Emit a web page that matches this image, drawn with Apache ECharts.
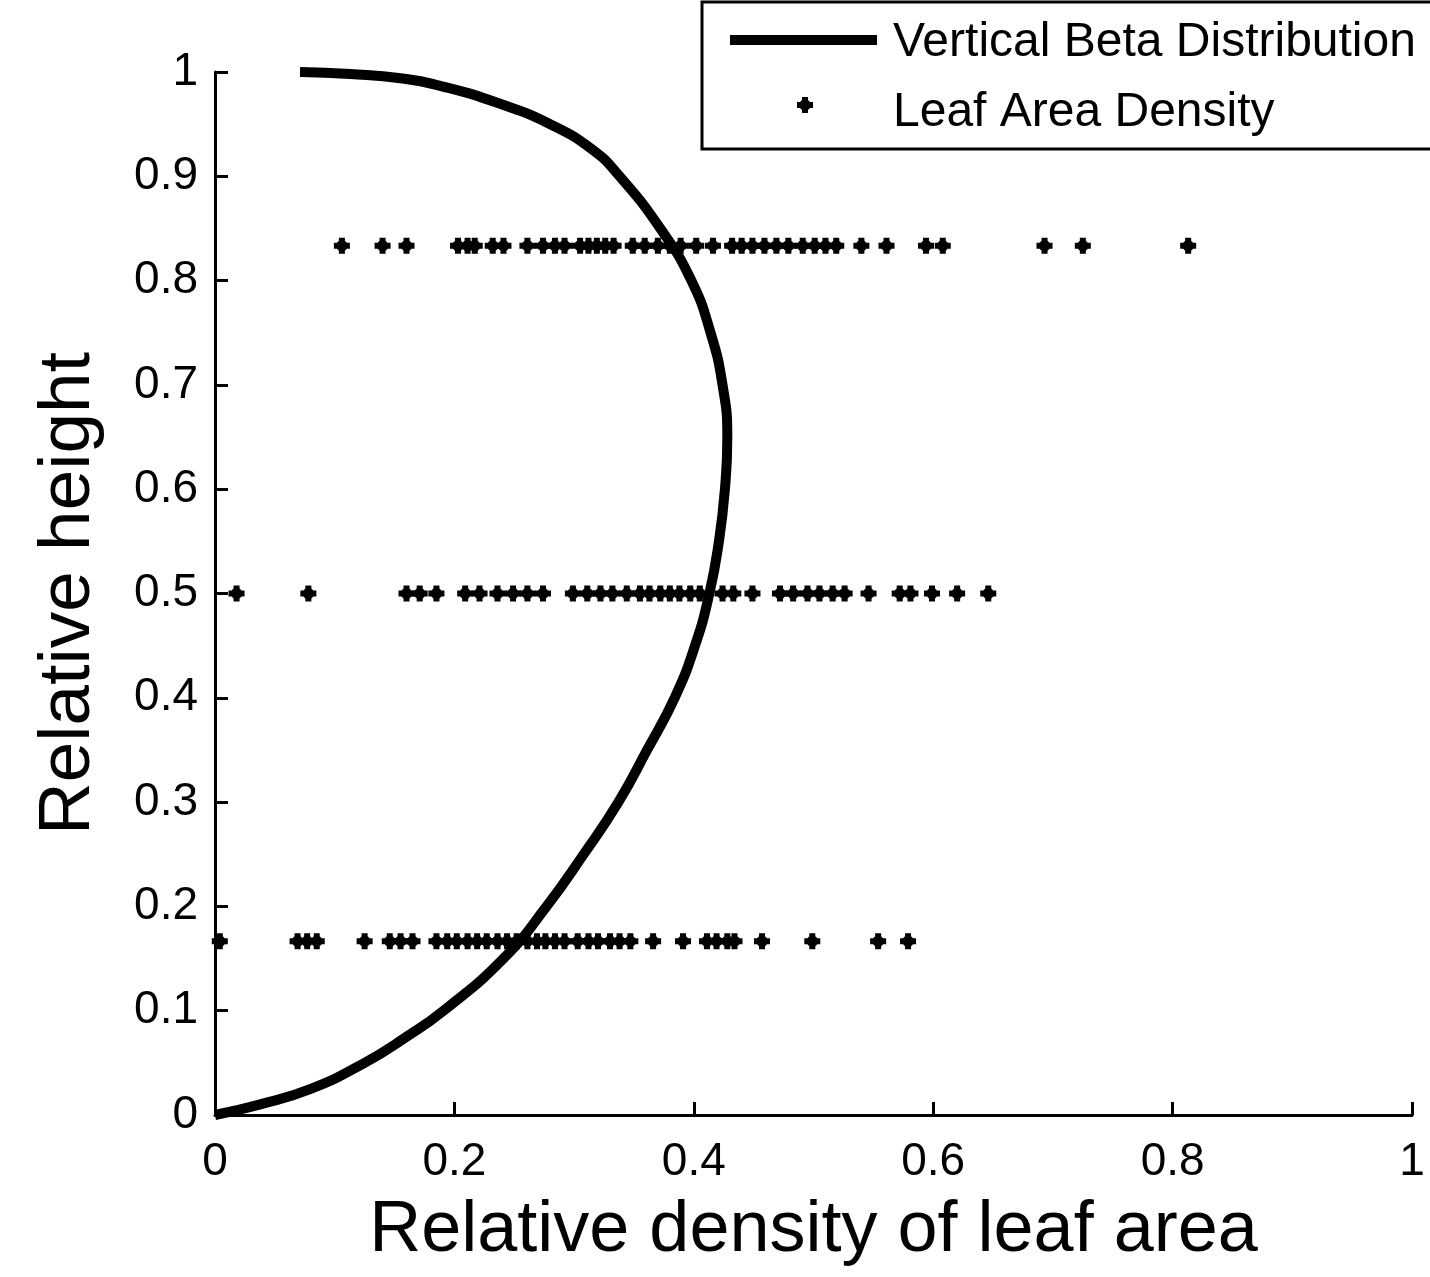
<!DOCTYPE html>
<html>
<head>
<meta charset="utf-8">
<title>Vertical Beta Distribution</title>
<script src="https://cdn.jsdelivr.net/npm/echarts@6/dist/echarts.min.js"></script>
<style>
  html, body { margin: 0; padding: 0; background: #fff; }
  #chart { width: 1430px; height: 1277px; }
</style>
</head>
<body>
<div id="chart"></div>
<script>
// relative heights of the three measured layers
var layerHeights = [0.1667, 0.5, 0.8333];

// leaf area density samples, one list per layer (x values)
var lowLayer = [0.004, 0.069, 0.077, 0.085, 0.125, 0.146, 0.155, 0.165, 0.185, 0.194, 0.202,
  0.211, 0.219, 0.227, 0.236, 0.244, 0.252, 0.261, 0.269, 0.276, 0.284, 0.292, 0.303, 0.312,
  0.320, 0.330, 0.338, 0.347, 0.366, 0.391, 0.411, 0.419, 0.428, 0.434, 0.457, 0.499, 0.554, 0.579];
var midLayer = [0.018, 0.078, 0.160, 0.171, 0.185, 0.209, 0.221, 0.236, 0.249, 0.261, 0.274,
  0.299, 0.311, 0.322, 0.332, 0.344, 0.355, 0.363, 0.372, 0.380, 0.388, 0.397, 0.405, 0.424,
  0.433, 0.449, 0.472, 0.483, 0.495, 0.505, 0.516, 0.526, 0.546, 0.572, 0.581, 0.599, 0.620, 0.646];
var topLayer = [0.106, 0.140, 0.160, 0.203, 0.211, 0.217, 0.232, 0.241, 0.261, 0.274, 0.284,
  0.292, 0.305, 0.312, 0.319, 0.326, 0.333, 0.349, 0.359, 0.370, 0.380, 0.389, 0.402, 0.416,
  0.432, 0.440, 0.449, 0.459, 0.469, 0.479, 0.491, 0.501, 0.510, 0.519, 0.540, 0.561, 0.594,
  0.608, 0.693, 0.725, 0.813];

// beta curve: height (y) and density (x)
var betaY = [0, 0.01, 0.025, 0.05, 0.075, 0.1, 0.15, 0.2, 0.25, 0.3, 0.35, 0.4, 0.45, 0.5,
  0.55, 0.6, 0.65, 0.7, 0.75, 0.8, 0.85, 0.9, 0.925, 0.95, 0.97, 0.985, 0.994, 0.998, 1.0];
var betaX = [0, 0.037, 0.080, 0.125, 0.160, 0.191, 0.241, 0.277, 0.308, 0.337, 0.361, 0.384,
  0.401, 0.413, 0.421, 0.426, 0.428, 0.424, 0.414, 0.398, 0.372, 0.338, 0.316, 0.280, 0.237,
  0.194, 0.155, 0.113, 0.071];

var plusShape = "M5,0 H11 V3 L13,5 H16 V11 H13 L11,13 V16 H5 V13 L3,11 H0 V5 H3 L5,3 Z";
var font = "Liberation Sans, Arial, sans-serif";

var scatterData = [];
[lowLayer, midLayer, topLayer].forEach(function (row, i) {
  row.forEach(function (x) {
    scatterData.push([x, layerHeights[i]]);
  });
});
var curveData = betaX.map(function (x, i) {
  return [x, betaY[i]];
});

function tickFmt(v) {
  return v === 0 || v === 1 ? String(v) : v.toFixed(1);
}

var chart = echarts.init(document.getElementById("chart"));
chart.setOption({
  animation: false,
  backgroundColor: "#fff",
  grid: { left: 215, right: 18, top: 72, bottom: 162 },
  xAxis: {
    type: "value",
    min: 0,
    max: 1,
    interval: 0.2,
    name: "Relative density of leaf area",
    nameLocation: "middle",
    nameGap: 80,
    nameTextStyle: { fontFamily: font, fontSize: 72, color: "#000", verticalAlign: "top" },
    axisLine: { lineStyle: { color: "#000", width: 3 } },
    axisTick: { inside: true, length: 13, lineStyle: { color: "#000", width: 3 } },
    axisLabel: { margin: 24, fontFamily: font, fontSize: 46, color: "#000", formatter: tickFmt },
    splitLine: { show: false }
  },
  yAxis: {
    type: "value",
    min: 0,
    max: 1,
    interval: 0.1,
    name: "Relative height",
    nameLocation: "middle",
    nameRotate: 90,
    nameGap: 110,
    nameTextStyle: { fontFamily: font, fontSize: 73, color: "#000" },
    axisLine: { lineStyle: { color: "#000", width: 3 } },
    axisTick: { inside: true, length: 13, lineStyle: { color: "#000", width: 3 } },
    axisLabel: { margin: 17, fontFamily: font, fontSize: 46, color: "#000", formatter: tickFmt },
    splitLine: { show: false }
  },
  series: [
    {
      name: "Vertical Beta Distribution",
      type: "line",
      data: curveData,
      showSymbol: false,
      smooth: 0.5,
      clip: false,
      lineStyle: { color: "#000", width: 10 },
      z: 3
    },
    {
      name: "Leaf Area Density",
      type: "scatter",
      data: scatterData,
      symbol: "path://" + plusShape,
      symbolSize: 16,
      itemStyle: { color: "#000", opacity: 1 },
      z: 2
    }
  ],
  graphic: [
    {
      type: "rect",
      shape: { x: 702, y: 2, width: 760, height: 147 },
      style: { fill: "#fff", stroke: "#000", lineWidth: 3 },
      z: 10
    },
    {
      type: "line",
      shape: { x1: 730, y1: 40, x2: 877, y2: 40 },
      style: { stroke: "#000", lineWidth: 10 },
      z: 11
    },
    {
      type: "text",
      x: 893, y: 43,
      style: { text: "Vertical Beta Distribution", font: "48px " + font, fill: "#000", verticalAlign: "middle" },
      z: 11
    },
    {
      type: "polygon",
      shape: {
        points: [[802, 97], [808, 97], [808, 100], [810, 102], [813, 102], [813, 108], [810, 108],
          [808, 110], [808, 113], [802, 113], [802, 110], [800, 108], [797, 108], [797, 102],
          [800, 102], [802, 100]]
      },
      style: { fill: "#000" },
      z: 11
    },
    {
      type: "text",
      x: 893, y: 113,
      style: { text: "Leaf Area Density", font: "48px " + font, fill: "#000", verticalAlign: "middle" },
      z: 11
    }
  ]
});
</script>
</body>
</html>
